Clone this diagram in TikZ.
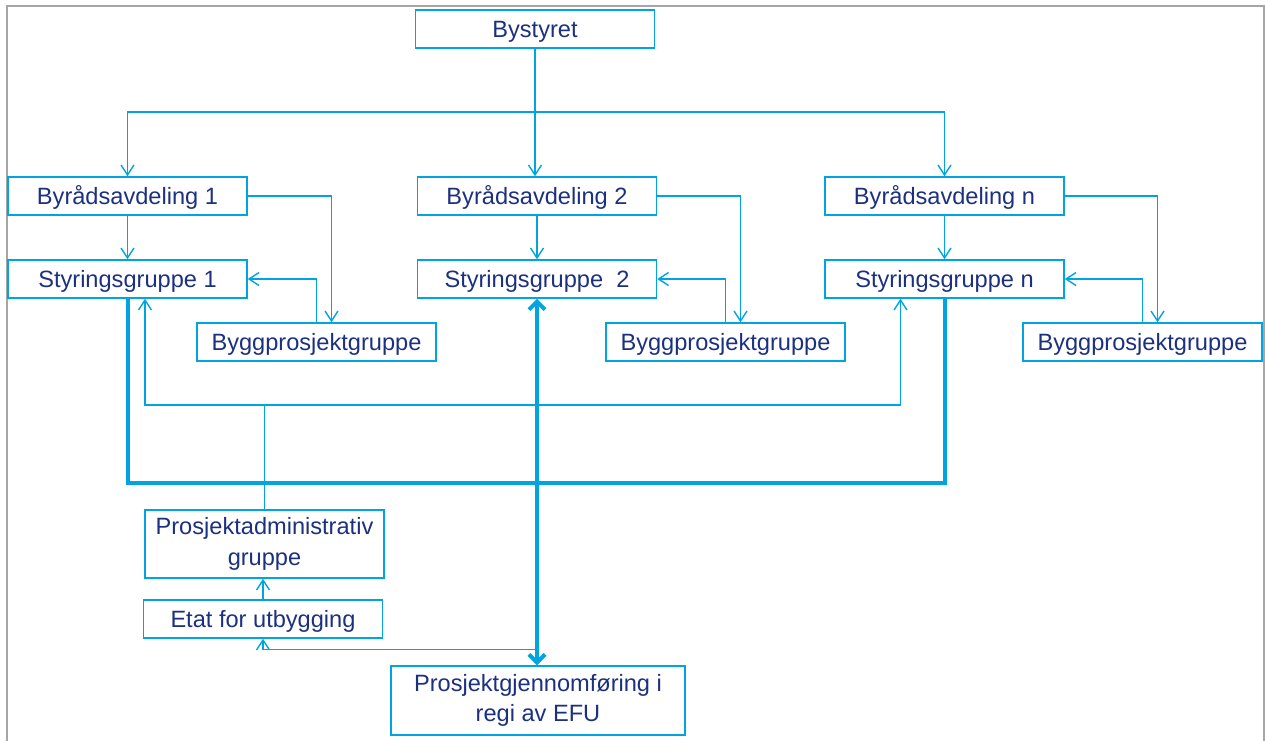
\documentclass[tikz,border=0pt]{standalone}
\usepackage{fontspec}
\setmainfont{Liberation Sans}
\usetikzlibrary{arrows.meta,positioning}
\definecolor{linjeblaa}{RGB}{0,164,224}
\definecolor{tekstblaa}{RGB}{28,48,128}
\tikzset{
    boks/.style={
        draw=linjeblaa,
        line width=0.75pt,
        text=tekstblaa,
        minimum width=119.5pt,
        minimum height=19pt,
        inner sep=0pt,
        align=center,
        font=\fontsize{11.8}{15.2}\selectfont
    },
    enkel/.style={
        boks,
        text height=10.6pt,
        text depth=2.4pt
    },
    linje/.style={
        draw=linjeblaa,
        line width=0.7pt
    },
    pil/.style={
        linje,
        -{Straight Barb[length=5pt,width=6.5pt]}
    },
    tykk/.style={
        draw=linjeblaa,
        line width=2pt
    }
}

\begin{document}
\begin{tikzpicture}[x=0.5pt,y=-0.5pt]
        \useasboundingbox (0,0) rectangle (1265,740);
        % frame
        \draw[black!35, line width=1pt] (7,750) -- (7,6) -- (1264,6) -- (1264,750);

        % draw boxes
        \node[enkel] (bystyret) at (535,29) {Bystyret};
        \node[enkel] (avd1) at (127.5,196) {Byrådsavdeling 1};
        \node[enkel] (avd2) at (537,196) {Byrådsavdeling 2};
        \node[enkel] (avdn) at (944.5,196) {Byrådsavdeling n};
        \node[enkel] (styr1) at (127.5,279) {Styringsgruppe 1};
        \node[enkel] (styr2) at (537,279) {Styringsgruppe\ \ 2};
        \node[enkel] (styrn) at (944.5,279) {Styringsgruppe n};
        \node[enkel] (bygg1) at (316.5,342) {Byggprosjektgruppe};
        \node[enkel] (bygg2) at (725.5,342) {Byggprosjektgruppe};
        \node[enkel] (byggn) at (1142.5,342) {Byggprosjektgruppe};
        \node[boks, minimum height=34pt] (padm) at (264.5,544) {Prosjektadministrativ\\gruppe};
        \node[enkel] (etat) at (263,619) {Etat for utbygging};
        \node[boks, minimum width=147pt, minimum height=34.5pt] (gjenn) at (538,700.5) {Prosjektgjennomføring i\\regi av EFU};

        % help points
        \coordinate (fordel) at (535,112);
        \coordinate (sloyfe) at (264,405);
        \coordinate (samle) at (537,483);

        % draw connectors
        \draw[pil] (bystyret.south) -- (bystyret.south |- avd2.north);
        \draw[pil] (fordel) -| (avd1.north);
        \draw[pil] (fordel) -| (avdn.north);
        \foreach \i in {1,2,n}
        {
            \draw[pil] (avd\i) -- (styr\i);
            \draw[pil] (avd\i.east) -| ([xshift=7.5pt]bygg\i.north);
            \draw[pil] (bygg\i.north) |- (styr\i.east);
        }
        \draw[linje] (padm.north) -- (padm.north |- sloyfe);
        \draw[pil, {Straight Barb[length=5pt,width=6.5pt]}-{Straight Barb[length=5pt,width=6.5pt]}]
            ([xshift=8.75pt]styr1.south) |- (sloyfe) -| ([xshift=-22pt]styrn.south);
        \draw[tykk] (styr1.south) |- (samle) -| (styrn.south);
        \draw[tykk, {Straight Barb[length=4pt,width=8pt]}-{Straight Barb[length=4pt,width=8pt]}]
            (styr2.south) -- (styr2.south |- gjenn.north);
        \draw[pil] ([yshift=8pt]gjenn.north) -| (etat.south);
        \draw[pil] (etat.north) -- (etat.north |- padm.south);
    \end{tikzpicture}
\end{document}
